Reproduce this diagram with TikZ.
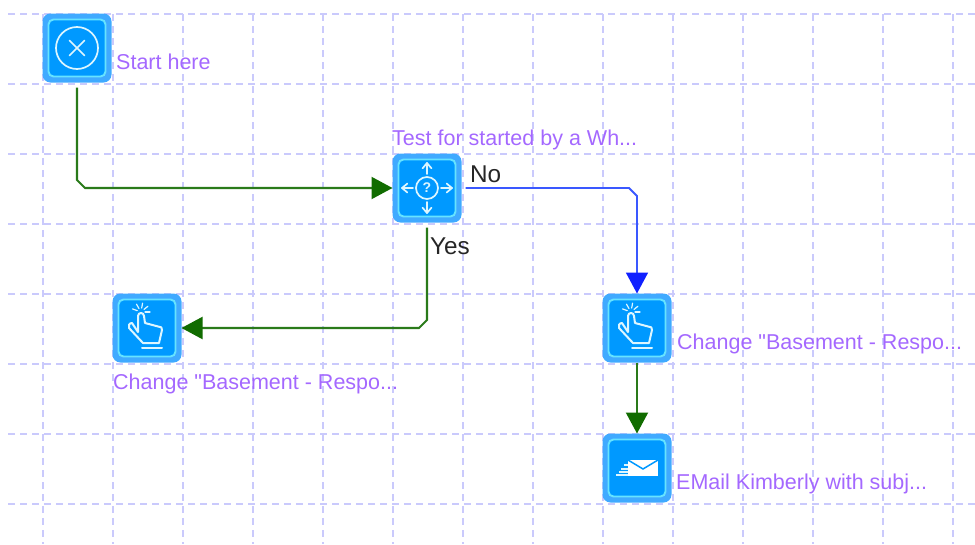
\documentclass[tikz,border=0pt]{standalone}
\usepackage{fontspec}
\setmainfont{Liberation Sans}
\newfontfamily\tagfont{Liberation Sans}
\usetikzlibrary{calc, arrows.meta}

\definecolor{gridblue}{HTML}{CACAFC}
\definecolor{tileblue}{HTML}{0099FF}
\definecolor{bandblue}{HTML}{40AAFF}
\definecolor{rimblue}{HTML}{66E3FF}
\definecolor{glyphblue}{HTML}{DDF6FF}
\definecolor{tagpurple}{HTML}{A468FF}
\definecolor{yesgreen}{HTML}{2A7A1A}
\definecolor{tipgreen}{HTML}{116C00}
\definecolor{noblue}{HTML}{3A58FF}
\definecolor{tipblue}{HTML}{1020FF}

\tikzset{
	tile/.style = {minimum size = 69pt, inner sep = 0pt, outer sep = 0pt, fill = bandblue, rounded corners = 8pt},
	tag/.style = {anchor = base west, inner sep = 0pt, text = tagpurple, font = \tagfont\fontsize{21.5}{24}\selectfont},
	branch/.style = {anchor = base west, inner sep = 0pt, text = black!85, font = \fontsize{24.3}{26}\selectfont},
	glyph/.style = {draw = glyphblue, line width = 1.7pt, line cap = round, line join = round},
	green link/.style = {draw = yesgreen, line width = 2.1pt, -{Triangle[length = 21pt, width = 22pt, color = tipgreen]}},
	blue link/.style = {draw = noblue, line width = 1.8pt, -{Triangle[length = 21pt, width = 22pt, color = tipblue]}},
	pics/frame/.style = {code = {
		\draw [draw = rimblue, fill = tileblue, line width = 1.9pt, rounded corners = 5pt] (-28.5,-28.5) rectangle (28.5,28.5);
	}},
	pics/stop sign/.style = {code = {
		\draw [glyph] (0,0) circle [radius = 21];
		\draw [glyph] (-7.5,-7.5) -- (7.5,7.5) (-7.5,7.5) -- (7.5,-7.5);
	}},
	pics/crossroads/.style = {code = {
		\draw [glyph] (0,0) circle [radius = 11];
		\foreach \a in {0,90,180,270} {
			\draw [glyph] (\a:14) -- (\a:25);
			\draw [glyph] ($ (\a:25) + (\a+140:7) $) -- (\a:25) -- ($ (\a:25) + (\a-140:7) $);
		}
	}},
	pics/hand/.style = {code = {
		\draw [glyph, line width = 2pt] (-9,4) -- (-15,-5) .. controls (-18,-5) and (-19,-2) .. (-18,0) -- (-4,15) -- (12,15) -- (15,2) .. controls (15,-1) and (14,-1) .. (13,-1) -- (-2,-5) -- (-3,-12) .. controls (-3,-16) and (-9,-16) .. (-9,-12) -- cycle;
		\draw [glyph, line width = 2pt] (-5,20) -- (15,20);
		\foreach \a in {20,60,100,140,180} {
			\draw [glyph, line width = 1.2pt] ($ (-6,-16) + (\a:-4) $) -- ($ (-6,-16) + (\a:-9) $);
		}
	}},
	pics/envelope/.style = {code = {
		\fill [white] (-9,-8) rectangle (21,8);
		\draw [tileblue, line width = 1.5pt] (-9,-8) -- (6,1) -- (21,-8);
		\draw [glyph, line width = 1.7pt, line cap = butt] (-13,-3) -- (-9,-3) (-16,1) -- (-9,1) (-18,4) -- (-9,4) (-21,7) -- (-9,7);
	}}
}

\begin{document}
\begin{tikzpicture}[x = 1pt, y = -1pt]
	\useasboundingbox (0,0) rectangle (975,544);
	
	% grid
	\foreach \gx in {43,113,...,953} {
		\draw [gridblue, line width = 1.3pt, dash pattern = on 7pt off 5pt] (\gx,14) -- (\gx,544);
	}
	\foreach \gy in {14,84,...,504} {
		\draw [gridblue, line width = 1.3pt, dash pattern = on 7pt off 5pt] (8,\gy) -- (975,\gy);
	}
	
	\node [tile] (start) at (77,48) {};
	\node [tile] (test) at (427,188) {};
	\node [tile] (change left) at (147,328) {};
	\node [tile] (change right) at (637,328) {};
	\node [tile] (email) at (637,468) {};
	
	\pic at (start) {frame};
	\pic at (test) {frame};
	\pic at (change left) {frame};
	\pic at (change right) {frame};
	\pic at (email) {frame};
	
	\pic at (start) {stop sign};
	\pic at (test) {crossroads};
	\node [inner sep = 0pt, text = glyphblue, font = \fontsize{14}{14}\selectfont\bfseries] (test mark) at (test) {?};
	\pic at (change left) {hand};
	\pic at (change right) {hand};
	\pic at (email) {envelope};
	
	\node [tag] (start tag) at ($ (start.center) + (39,21) $) {Start here};
	\node [tag] (test tag) at ($ (test.center) + (-35,-43) $) {Test for started by a Wh...};
	\node [tag] (change left tag) at ($ (change left.center) + (-34,61) $) {Change "Basement - Respo...};
	\node [tag] (change right tag) at ($ (change right.center) + (40,21) $) {Change "Basement - Respo...};
	\node [tag] (email tag) at ($ (email.center) + (39,21) $) {EMail Kimberly with subj...};
	
	\coordinate (bend start) at (start.center |- test.center);
	\coordinate (bend yes) at (test.center |- change left.center);
	\coordinate (bend no) at (change right.center |- test.center);
	
	\draw [green link] ($ (start.south) + (0,5) $) -- ($ (bend start) + (0,-8) $) -- ($ (bend start) + (8,0) $) -- (test.west);
	\draw [green link] ($ (test.south) + (0,5) $) -- ($ (bend yes) + (0,-8) $) -- ($ (bend yes) + (-8,0) $) -- (change left.east);
	\draw [blue link] ($ (test.east) + (4,0) $) -- ($ (bend no) + (-8,0) $) -- ($ (bend no) + (0,8) $) -- (change right.north);
	\draw [green link] (change right.south) -- (email.north);
	
	\node [branch] (no label) at ($ (test.center) + (43,-6) $) {No};
	\node [branch] (yes label) at ($ (test.center) + (3,66) $) {Yes};
\end{tikzpicture}
\end{document}
